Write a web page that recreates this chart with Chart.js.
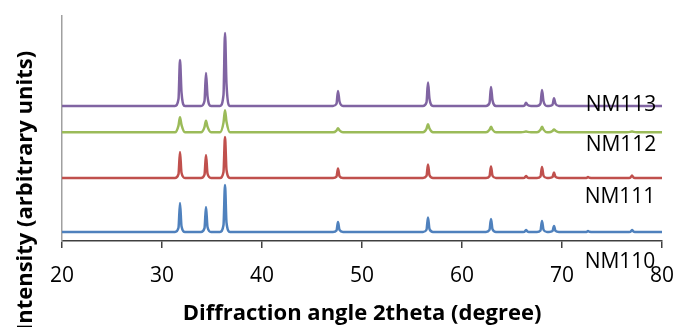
<!DOCTYPE html>
<html>
<head>
<meta charset="utf-8">
<script src="https://cdn.jsdelivr.net/npm/chart.js@4.4.1/dist/chart.umd.min.js"></script>
<style>
  html, body { margin: 0; padding: 0; background: #fff; }
  #wrap { width: 676px; height: 327px; }
</style>
</head>
<body>
<div id="wrap"><canvas id="xrdChart"></canvas></div>
<script>
// ângulos 2theta (compartilhados pelas 4 curvas)
const angles = [20,
  31.3, 31.65, 31.8, 31.95, 32.3,
  33.9, 34.25, 34.4, 34.55, 34.9,
  35.8, 36.15, 36.3, 36.45, 36.8,
  47.1, 47.45, 47.6, 47.75, 48.1,
  56.1, 56.45, 56.6, 56.75, 57.1,
  62.4, 62.75, 62.9, 63.05, 63.4,
  65.9, 66.25, 66.4, 66.55, 66.9,
  67.5, 67.85, 68.0, 68.15, 68.5,
  68.7, 69.05, 69.2, 69.35, 69.7,
  72.1, 72.45, 72.6, 72.75, 73.1,
  76.5, 76.85, 77.0, 77.15, 77.5,
  80];

// intensidades (já deslocadas verticalmente, unidades arbitrárias)
const nm110 = [4.0,
  4.0, 5.9, 16.9, 6.6, 4.0,
  4.0, 5.7, 15.1, 6.2, 4.0,
  4.0, 7.1, 24.9, 8.2, 4.0,
  4.0, 4.7, 8.4, 4.9, 4.0,
  4.0, 5.0, 10.4, 5.3, 4.0,
  4.0, 4.9, 9.8, 5.2, 4.0,
  4.0, 4.1, 4.9, 4.2, 4.0,
  4.0, 4.7, 8.9, 5.0, 4.0,
  4.0, 4.4, 6.7, 4.5, 4.0,
  4.0, 4.0, 4.4, 4.1, 4.0,
  4.0, 4.1, 4.9, 4.2, 4.0,
  4.0];

const nm111 = [28.0,
  28.0, 29.7, 39.6, 30.3, 28.0,
  28.0, 29.5, 38.2, 30.0, 28.0,
  28.0, 30.7, 46.2, 31.6, 28.0,
  28.0, 28.6, 32.2, 28.8, 28.0,
  28.0, 28.9, 34.0, 29.2, 28.0,
  28.0, 28.8, 33.1, 29.0, 28.0,
  28.0, 28.1, 28.9, 28.2, 28.0,
  28.0, 28.7, 32.9, 29.0, 28.0,
  28.0, 28.4, 30.4, 28.5, 28.0,
  28.0, 28.0, 28.4, 28.1, 28.0,
  28.0, 28.2, 29.1, 28.2, 28.0,
  28.0];

const nm112 = [48.3,
  48.3, 51.3, 55.0, 51.6, 48.3,
  48.3, 50.6, 53.5, 50.8, 48.3,
  48.3, 52.6, 58.1, 53.0, 48.3,
  48.3, 49.1, 50.1, 49.2, 48.3,
  48.3, 49.9, 51.9, 50.0, 48.3,
  48.3, 49.4, 50.8, 49.5, 48.3,
  48.3, 48.5, 48.7, 48.5, 48.3,
  48.3, 49.4, 50.8, 49.5, 48.3,
  48.3, 48.9, 49.6, 49.0, 48.3,
  48.3, 48.3, 48.3, 48.3, 48.3,
  48.3, 48.5, 48.7, 48.5, 48.3,
  48.3];

const nm113 = [60.0,
  60.0, 63.1, 80.4, 66.1, 60.0,
  60.0, 62.2, 74.7, 64.4, 60.0,
  60.0, 64.9, 92.4, 69.7, 60.0,
  60.0, 61.0, 66.7, 62.0, 60.0,
  60.0, 61.6, 70.4, 63.1, 60.0,
  60.0, 61.3, 68.4, 62.5, 60.0,
  60.0, 60.2, 61.5, 60.5, 60.0,
  60.0, 61.1, 67.1, 62.1, 60.0,
  60.0, 60.5, 63.4, 61.0, 60.0,
  60.0, 60.0, 60.0, 60.0, 60.0,
  60.0, 60.0, 60.0, 60.0, 60.0,
  60.0];

const xTicks = [20, 30, 40, 50, 60, 70, 80];
const seriesNames = ['NM110', 'NM111', 'NM112', 'NM113'];
const seriesColors = ['#4F81BD', '#C0504D', '#9BBB59', '#8064A2'];
// posição dos rótulos (em coordenadas de dados)
const labelX = [75.8, 75.8, 75.9, 75.9];
const labelY = [-9.3, 19.6, 42.7, 60.4];

const FONT = "'Open Sans', sans-serif";

const toPoints = (ys) => angles.map((a, i) => ({ x: a, y: ys[i] }));

// escreve os nomes das amostras e o título do eixo Y
const extraText = {
  id: 'extraText',
  afterDatasetsDraw(chart) {
    const { ctx, scales } = chart;
    ctx.save();
    ctx.fillStyle = '#000';
    ctx.font = `21px ${FONT}`;
    ctx.textAlign = 'center';
    ctx.textBaseline = 'middle';
    seriesNames.forEach((name, i) => {
      ctx.fillText(name, scales.x.getPixelForValue(labelX[i]), scales.y.getPixelForValue(labelY[i]));
    });

    ctx.translate(26, 191);
    ctx.rotate(-Math.PI / 2);
    ctx.font = `bold 22px ${FONT}`;
    ctx.fillText('Intensity (arbitrary units)', 0, 0);
    ctx.restore();
  }
};

const ctx = document.getElementById('xrdChart').getContext('2d');
new Chart(ctx, {
  type: 'line',
  data: {
    datasets: [nm110, nm111, nm112, nm113].map((ys, i) => ({
      label: seriesNames[i],
      data: toPoints(ys),
      borderColor: seriesColors[i],
      borderWidth: 2.5,
      pointRadius: 0,
      fill: false,
      cubicInterpolationMode: 'monotone'
    }))
  },
  options: {
    responsive: true,
    maintainAspectRatio: false,
    animation: false,
    layout: { padding: { top: 16, right: 14, left: 0, bottom: 0 } },
    plugins: { legend: { display: false }, tooltip: { enabled: false } },
    scales: {
      x: {
        type: 'linear',
        min: 20,
        max: 80,
        afterBuildTicks: (scale) => { scale.ticks = xTicks.map(v => ({ value: v })); },
        afterFit: (scale) => {
          scale.height = 86;
          scale.paddingLeft = 0;
          scale.paddingRight = 0;
        },
        border: { color: '#404040', width: 1.5 },
        grid: { drawOnChartArea: false, drawTicks: true, tickLength: 7, color: '#404040', lineWidth: 1.5 },
        ticks: { color: '#000', font: { family: FONT, size: 21 }, padding: 15, maxRotation: 0 },
        title: {
          display: true,
          text: 'Diffraction angle 2theta (degree)',
          color: '#000',
          font: { family: FONT, size: 22, weight: 'bold' },
          padding: { top: 0, bottom: 0 }
        }
      },
      y: {
        min: 0,
        max: 100,
        afterFit: (scale) => { scale.width = 62; },
        border: { color: '#A0A0A0', width: 1.5 },
        grid: { display: false },
        ticks: { display: false }
      }
    }
  },
  plugins: [extraText]
});
</script>
</body>
</html>
